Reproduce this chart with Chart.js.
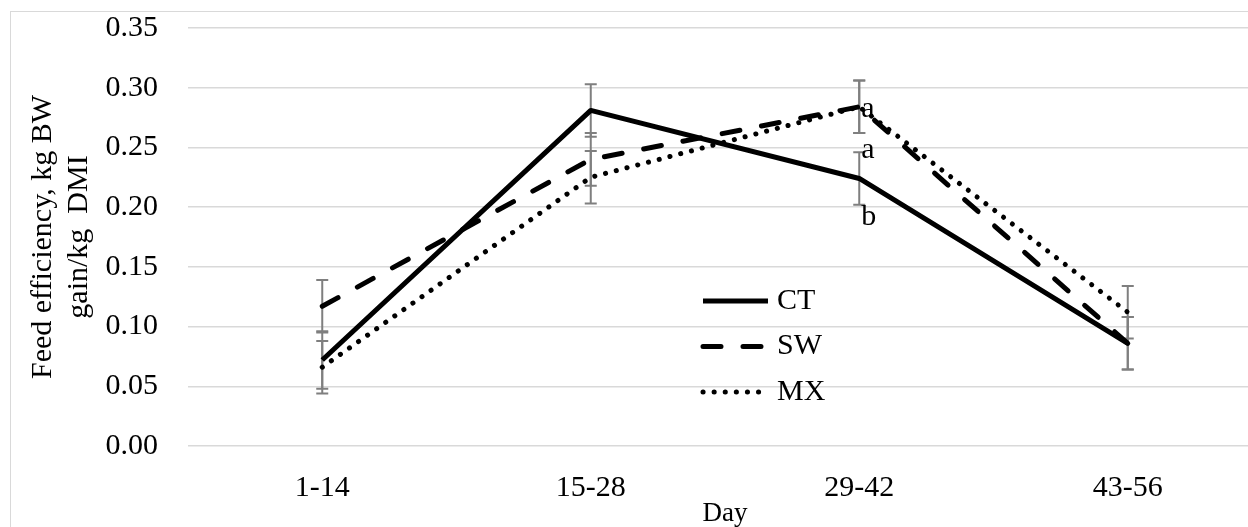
<!DOCTYPE html>
<html>
<head>
<meta charset="utf-8">
<script src="https://cdn.jsdelivr.net/npm/chart.js@4.4.1/dist/chart.umd.min.js"></script>
<style>
    html, body { margin: 0; padding: 0; background: #fff; overflow: hidden; }
    #frame { position: absolute; left: 10px; top: 11px; width: 2000px; height: 2000px; border: 1px solid #d9d9d9; }
    #wrap { position: absolute; left: 0; top: 0; width: 1262px; height: 527px; }
</style>
</head>
<body>
<div id="frame"></div>
<div id="wrap"><canvas id="chart-fe" width="1262" height="527"></canvas></div>
<script>
// ─── Data ─────────────────────────────────────────────────────────────────────
const PERIODS = ["1-14", "15-28", "29-42", "43-56"];
const Y_TICKS = [0, 0.05, 0.10, 0.15, 0.20, 0.25, 0.30, 0.35];

const CT = [0.072, 0.281, 0.224, 0.086];
const SW = [0.117, 0.240, 0.284, 0.086];
const MX = [0.066, 0.225, 0.284, 0.112];

const CT_SE = [0.024, 0.022, 0.022, 0.022];
const SW_SE = [0.022, 0.022, 0.022, 0.022];
const MX_SE = [0.022, 0.022, 0.022, 0.022];

// significance letters (period index -> letter)
const CT_LETTERS = [null, null, "b", null];
const SW_LETTERS = [null, null, "a", null];
const MX_LETTERS = [null, null, "a", null];

const SERIF = "'Liberation Serif', 'Times New Roman', serif";
const INK = "#000";

// ─── Plugins ──────────────────────────────────────────────────────────────────
const errorBars = {
    id: "errorBars",
    beforeDatasetsDraw(chart) {
        const { ctx, scales: { y } } = chart;
        ctx.save();
        ctx.strokeStyle = "#7f7f7f";
        ctx.lineWidth = 2;
        chart.data.datasets.forEach((ds, i) => {
            const meta = chart.getDatasetMeta(i);
            meta.data.forEach((pt, j) => {
                const v = ds.data[j], e = ds.se[j];
                const top = y.getPixelForValue(v + e);
                const bot = y.getPixelForValue(v - e);
                ctx.beginPath();
                ctx.moveTo(pt.x, top); ctx.lineTo(pt.x, bot);
                ctx.moveTo(pt.x - 6, top); ctx.lineTo(pt.x + 6, top);
                ctx.moveTo(pt.x - 6, bot); ctx.lineTo(pt.x + 6, bot);
                ctx.stroke();
            });
        });
        ctx.restore();
    },
};

const letterLabels = {
    id: "letterLabels",
    afterDatasetsDraw(chart) {
        const { ctx } = chart;
        ctx.save();
        ctx.font = "30px " + SERIF;
        ctx.fillStyle = INK;
        ctx.textAlign = "left";
        ctx.textBaseline = "alphabetic";
        chart.data.datasets.forEach((ds, i) => {
            const meta = chart.getDatasetMeta(i);
            meta.data.forEach((pt, j) => {
                const t = ds.letters[j];
                if (t) ctx.fillText(t, pt.x + 2, pt.y + ds.letterDy);
            });
        });
        ctx.restore();
    },
};

const innerLegend = {
    id: "innerLegend",
    afterDraw(chart) {
        const { ctx } = chart;
        ctx.save();
        chart.data.datasets.forEach((ds, i) => {
            const y = 301 + i * 45.5;
            ctx.beginPath();
            ctx.strokeStyle = ds.borderColor;
            ctx.lineWidth = ds.borderWidth;
            ctx.lineCap = ds.borderCapStyle;
            ctx.setLineDash(ds.borderDash);
            ctx.moveTo(703, y);
            ctx.lineTo(768, y);
            ctx.stroke();
            ctx.setLineDash([]);
            ctx.font = "30px " + SERIF;
            ctx.fillStyle = INK;
            ctx.textAlign = "left";
            ctx.textBaseline = "middle";
            ctx.fillText(ds.label, 777, y);
        });
        ctx.restore();
    },
};

// ─── Chart ────────────────────────────────────────────────────────────────────
const line = (label, data, se, letters, letterDy, dash, cap) => ({
    label, data, se, letters, letterDy,
    borderColor: "#000",
    borderWidth: 5,
    borderDash: dash,
    borderCapStyle: cap,
    borderJoinStyle: "round",
    pointRadius: 0,
    tension: 0,
    fill: false,
});

new Chart(document.getElementById("chart-fe"), {
    type: "line",
    data: {
        labels: PERIODS,
        datasets: [
            line("CT", CT, CT_SE, CT_LETTERS, 47, [], "butt"),
            line("SW", SW, SW_SE, SW_LETTERS, 51, [18, 22], "round"),
            line("MX", MX, MX_SE, MX_LETTERS, 10, [0.1, 11], "round"),
        ],
    },
    options: {
        responsive: false,
        animation: false,
        devicePixelRatio: 1,
        layout: { padding: { top: 28, right: 0, bottom: 0, left: 0 }, autoPadding: false },
        plugins: { legend: { display: false }, tooltip: { enabled: false } },
        scales: {
            x: {
                offset: true,
                grid: { display: false },
                border: { display: false },
                ticks: { color: INK, font: { family: SERIF, size: 30 }, padding: 16, maxRotation: 0 },
                title: { display: true, text: "Day", color: INK, font: { family: SERIF, size: 27, lineHeight: 1 }, padding: { top: 0, bottom: 0 } },
                afterFit: (s) => { s.height = 81; s.paddingLeft = 0; s.paddingRight = 0; },
            },
            y: {
                min: 0,
                max: 0.35,
                afterBuildTicks: (s) => { s.ticks = Y_TICKS.map((v) => ({ value: v })); },
                grid: { color: "#d9d9d9", lineWidth: 1.5, drawTicks: false },
                border: { display: false },
                ticks: { color: INK, font: { family: SERIF, size: 30 }, padding: 30, callback: (v) => v.toFixed(2) },
                title: {
                    display: true,
                    text: ["Feed efficiency, kg BW", "gain/kg  DMI"],
                    color: INK,
                    font: { family: SERIF, size: 30, lineHeight: 1.2 },
                    padding: { top: 25, bottom: 0 },
                },
                afterFit: (s) => { s.width = 188; s.paddingTop = 0; s.paddingBottom = 0; },
            },
        },
    },
    plugins: [errorBars, letterLabels, innerLegend],
});
</script>
</body>
</html>
